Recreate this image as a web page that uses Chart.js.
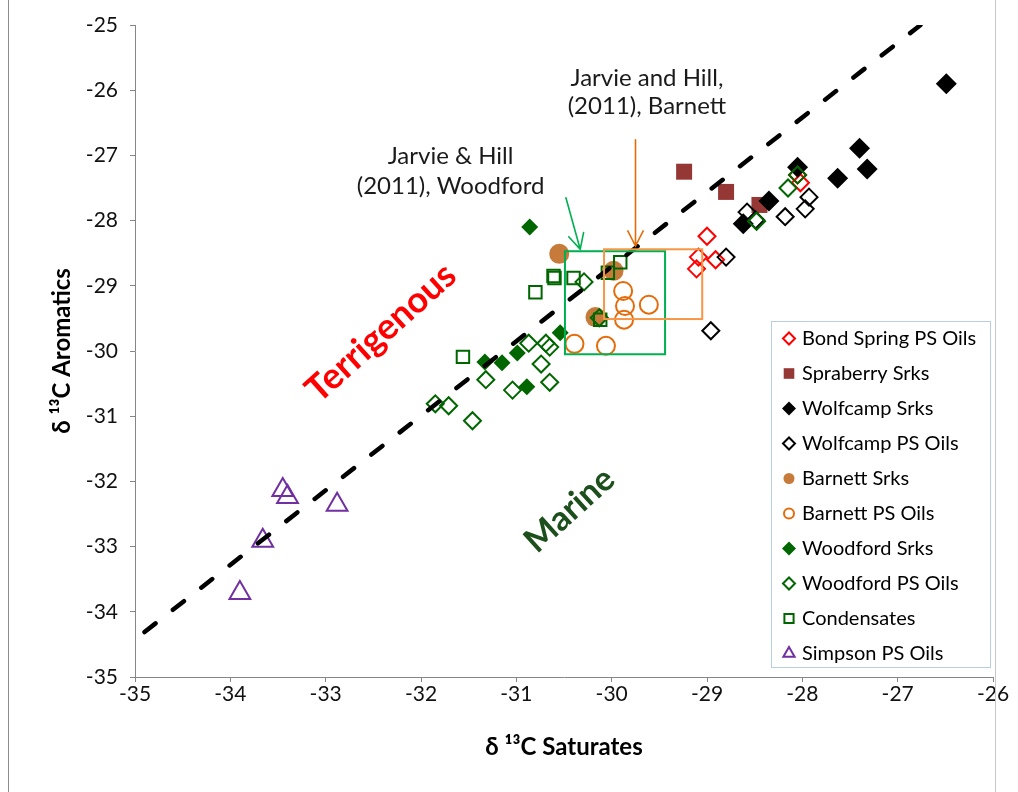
<!DOCTYPE html>
<html>
<head>
<meta charset="utf-8">
<script src="https://cdn.jsdelivr.net/npm/chart.js@4.4.1/dist/chart.umd.min.js"></script>
<style>
  html, body { margin: 0; padding: 0; background: #fff; }
  #wrap { position: relative; width: 1018px; height: 792px; }
  canvas { display: block; }
</style>
</head>
<body>
<div id="wrap"><canvas id="c" width="1018" height="792"></canvas></div>
<script>
// δ13C saturates (x) vs δ13C aromatics (y), per sample group
const seriesNames = ['Bond Spring PS Oils', 'Spraberry Srks', 'Wolfcamp Srks', 'Wolfcamp PS Oils',
  'Barnett Srks', 'Barnett PS Oils', 'Woodford Srks', 'Woodford PS Oils', 'Condensates', 'Simpson PS Oils'];

const bondSpringSat = [-29.00, -29.09, -28.91, -29.11, -28.05, -28.02];
const bondSpringAro = [-28.24, -28.56, -28.60, -28.74, -27.30, -27.42];

const spraberrySat = [-29.24, -28.80, -28.45];
const spraberryAro = [-27.25, -27.56, -27.76];

const wolfcampSrkSat = [-26.49, -27.40, -27.32, -27.63, -28.05, -28.35, -28.62];
const wolfcampSrkAro = [-25.90, -26.89, -27.21, -27.35, -27.18, -27.70, -28.05];

const wolfcampOilSat = [-28.58, -28.49, -28.18, -27.93, -27.97, -28.80, -28.96];
const wolfcampOilAro = [-27.87, -27.99, -27.94, -27.64, -27.82, -28.56, -29.69];

const barnettSrkSat = [-30.55, -29.98, -30.17];
const barnettSrkAro = [-28.51, -28.77, -29.48];

const barnettOilSat = [-29.88, -29.86, -29.61, -29.87, -30.39, -30.06];
const barnettOilAro = [-29.08, -29.31, -29.29, -29.52, -29.89, -29.92];

const woodfordSrkSat = [-30.86, -31.33, -31.15, -30.99, -30.89, -30.54];
const woodfordSrkAro = [-28.10, -30.17, -30.18, -30.03, -30.55, -29.72];

const woodfordOilSat = [-30.29, -30.87, -30.69, -30.65, -30.74, -31.32, -30.65, -31.04, -31.85, -31.71, -31.46, -30.13, -28.05, -28.15, -28.48];
const woodfordOilAro = [-28.94, -29.88, -29.88, -29.94, -30.20, -30.44, -30.48, -30.60, -30.81, -30.84, -31.07, -29.49, -27.30, -27.50, -28.01];

const condensateSat = [-30.61, -30.60, -30.80, -30.40, -29.91, -30.04, -30.12, -31.56];
const condensateAro = [-28.85, -28.88, -29.10, -28.88, -28.64, -28.80, -29.52, -30.09];

const simpsonSat = [-33.45, -33.40, -32.88, -33.66, -33.90];
const simpsonAro = [-32.13, -32.24, -32.36, -32.91, -33.71];

// marine / terrigenous dividing line end points
const dividerSat = [-34.90, -26.76];
const dividerAro = [-34.31, -25.00];

// literature fields (Jarvie & Hill, 2011): [min, max] in each axis
const woodfordFieldSat = [-30.49, -29.44];
const woodfordFieldAro = [-30.05, -28.47];
const barnettFieldSat = [-30.08, -29.05];
const barnettFieldAro = [-29.51, -28.44];

const xTicks = [-35, -34, -33, -32, -31, -30, -29, -28, -27, -26];
const yTicks = [-35, -34, -33, -32, -31, -30, -29, -28, -27, -26, -25];

const FONT = 'Lato, "Open Sans", "DejaVu Sans", sans-serif';

function pts(xs, ys) { return xs.map((x, i) => ({ x: x, y: ys[i] })); }

const GREEN = '#006600';
const markerStyles = [
  { style: 'rectRot', r: 8.5, fill: 'rgba(0,0,0,0)', line: '#FF0000', w: 2, lr: 6 },
  { style: 'rect', r: 11.3, fill: '#953735', line: '#953735', w: 0, lr: 7.5 },
  { style: 'rectRot', r: 10.5, fill: '#000000', line: '#000000', w: 0, lr: 7 },
  { style: 'rectRot', r: 8.5, fill: 'rgba(0,0,0,0)', line: '#000000', w: 2, lr: 6 },
  { style: 'circle', r: 10, fill: '#C77B3B', line: '#C77B3B', w: 0, lr: 5.5 },
  { style: 'circle', r: 9, fill: 'rgba(0,0,0,0)', line: '#E46C0A', w: 2, lr: 5 },
  { style: 'rectRot', r: 8.5, fill: GREEN, line: GREEN, w: 0, lr: 7 },
  { style: 'rectRot', r: 8.5, fill: 'rgba(0,0,0,0)', line: GREEN, w: 2, lr: 6 },
  { style: 'rect', r: 8.8, fill: 'rgba(0,0,0,0)', line: GREEN, w: 2, lr: 6.5 },
  { style: 'triangle', r: 12, fill: 'rgba(0,0,0,0)', line: '#7030A0', w: 2, lr: 6.5 }
];

const seriesData = [
  pts(bondSpringSat, bondSpringAro),
  pts(spraberrySat, spraberryAro),
  pts(wolfcampSrkSat, wolfcampSrkAro),
  pts(wolfcampOilSat, wolfcampOilAro),
  pts(barnettSrkSat, barnettSrkAro),
  pts(barnettOilSat, barnettOilAro),
  pts(woodfordSrkSat, woodfordSrkAro),
  pts(woodfordOilSat, woodfordOilAro),
  pts(condensateSat, condensateAro),
  pts(simpsonSat, simpsonAro)
];

const datasets = seriesNames.map((name, i) => ({
  label: name,
  data: seriesData[i],
  pointStyle: markerStyles[i].style,
  pointRadius: markerStyles[i].r,
  pointBackgroundColor: markerStyles[i].fill,
  pointBorderColor: markerStyles[i].line,
  pointBorderWidth: markerStyles[i].w,
  showLine: false,
  order: 20 - i   // later series drawn on top
}));

datasets.push({
  label: 'divider',
  data: pts(dividerSat, dividerAro),
  showLine: true,
  pointRadius: 0,
  borderColor: '#000000',
  borderWidth: 4.5,
  borderDash: [14, 22],
  borderCapStyle: 'round',
  order: 0
});

// text and shape annotations placed in data units
const notes = {
  barnettLabel: { x: -29.63, y: [-25.81, -26.25], lines: ['Jarvie and Hill,', '(2011), Barnett'] },
  woodfordLabel: { x: -31.69, y: [-27.02, -27.48], lines: ['Jarvie & Hill', '(2011), Woodford'] },
  greenArrow: { from: [-30.48, -27.65], to: [-30.33, -28.44], color: '#00B050' },
  orangeArrow: { from: [-29.75, -26.76], to: [-29.75, -28.39], color: '#E46C0A' },
  terrigenous: { x: -32.42, y: -29.72, text: 'Terrigenous', color: '#FF0000', size: 36 },
  marine: { x: -30.44, y: -32.44, text: 'Marine', color: '#1C4F1C', size: 34 }
};

function drawArrow(ctx, x1, y1, x2, y2, color) {
  const ang = Math.atan2(y2 - y1, x2 - x1);
  const arm = 17, spread = 0.47;
  ctx.save();
  ctx.strokeStyle = color;
  ctx.lineWidth = 1.6;
  ctx.lineCap = 'round';
  ctx.beginPath();
  ctx.moveTo(x1, y1);
  ctx.lineTo(x2, y2);
  ctx.moveTo(x2 - arm * Math.cos(ang - spread), y2 - arm * Math.sin(ang - spread));
  ctx.lineTo(x2, y2);
  ctx.lineTo(x2 - arm * Math.cos(ang + spread), y2 - arm * Math.sin(ang + spread));
  ctx.stroke();
  ctx.restore();
}

const overlayPlugin = {
  id: 'overlay',
  afterDatasetsDraw(chart) {
    const ctx = chart.ctx;
    const sx = v => chart.scales.x.getPixelForValue(v);
    const sy = v => chart.scales.y.getPixelForValue(v);

    // literature field boxes
    ctx.save();
    ctx.lineWidth = 2;
    ctx.strokeStyle = '#00B050';
    ctx.strokeRect(sx(woodfordFieldSat[0]), sy(woodfordFieldAro[1]),
      sx(woodfordFieldSat[1]) - sx(woodfordFieldSat[0]), sy(woodfordFieldAro[0]) - sy(woodfordFieldAro[1]));
    ctx.strokeStyle = '#F79646';
    ctx.strokeRect(sx(barnettFieldSat[0]), sy(barnettFieldAro[1]),
      sx(barnettFieldSat[1]) - sx(barnettFieldSat[0]), sy(barnettFieldAro[0]) - sy(barnettFieldAro[1]));
    ctx.restore();

    // arrows
    [notes.greenArrow, notes.orangeArrow].forEach(a => {
      drawArrow(ctx, sx(a.from[0]), sy(a.from[1]), sx(a.to[0]), sy(a.to[1]), a.color);
    });

    // citation labels
    ctx.save();
    ctx.fillStyle = '#1a1a1a';
    ctx.font = '24px ' + FONT;
    ctx.textAlign = 'center';
    ctx.textBaseline = 'middle';
    [notes.barnettLabel, notes.woodfordLabel].forEach(n => {
      n.lines.forEach((t, i) => ctx.fillText(t, sx(n.x), sy(n.y[i])));
    });
    ctx.restore();

    // rotated field names
    [notes.terrigenous, notes.marine].forEach(n => {
      ctx.save();
      ctx.translate(sx(n.x), sy(n.y));
      ctx.rotate(-42 * Math.PI / 180);
      ctx.fillStyle = n.color;
      ctx.font = 'bold ' + n.size + 'px ' + FONT;
      ctx.textAlign = 'center';
      ctx.textBaseline = 'middle';
      ctx.fillText(n.text, 0, 0);
      ctx.restore();
    });

    // legend box in the lower right of the plot
    const area = chart.chartArea;
    const boxW = 219, boxH = 346;
    const bx = area.right - 3 - boxW, by = area.bottom - 10 - boxH;
    ctx.save();
    ctx.fillStyle = '#ffffff';
    ctx.fillRect(bx, by, boxW, boxH);
    ctx.strokeStyle = '#B9CDE5';
    ctx.lineWidth = 1;
    ctx.strokeRect(bx + 0.5, by + 0.5, boxW, boxH);
    const helpers = Chart.helpers;
    seriesNames.forEach((name, i) => {
      const cy = by + 17.5 + i * 35;
      const cx = bx + 18;
      const m = markerStyles[i];
      ctx.fillStyle = m.fill;
      ctx.strokeStyle = m.line;
      ctx.lineWidth = m.w;
      helpers.drawPoint(ctx, { pointStyle: m.style, radius: m.lr, rotation: 0, borderWidth: m.w }, cx, cy);
      ctx.fillStyle = '#000000';
      ctx.font = '20px ' + FONT;
      ctx.textAlign = 'left';
      ctx.textBaseline = 'middle';
      ctx.fillText(name, bx + 31, cy);
    });
    ctx.restore();

    // outer frame lines
    ctx.save();
    ctx.strokeStyle = '#8c8c8c';
    ctx.lineWidth = 1;
    ctx.beginPath();
    ctx.moveTo(8.5, 0); ctx.lineTo(8.5, chart.height);
    ctx.stroke();
    ctx.strokeStyle = '#c8c8c8';
    ctx.beginPath();
    ctx.moveTo(995.5, 0); ctx.lineTo(995.5, chart.height);
    ctx.stroke();
    ctx.restore();
  }
};

const axisColor = '#868686';

new Chart(document.getElementById('c'), {
  type: 'scatter',
  data: { datasets: datasets },
  options: {
    responsive: false,
    animation: false,
    devicePixelRatio: 1,
    layout: { padding: { left: 44, right: 25, top: 25, bottom: 26 } },
    plugins: {
      legend: { display: false },
      tooltip: { enabled: false }
    },
    scales: {
      x: {
        type: 'linear',
        min: -35, max: -26,
        afterFit: s => { s.height = 89; },
        afterBuildTicks: s => { s.ticks = xTicks.map(v => ({ value: v })); },
        border: { color: axisColor, width: 1 },
        grid: { drawOnChartArea: false, drawTicks: true, tickLength: 5, color: axisColor },
        ticks: { color: '#111', font: { family: FONT, size: 21 }, padding: 0, maxRotation: 0 },
        title: { display: true, text: 'δ ¹³C Saturates', color: '#000', font: { family: FONT, size: 24, weight: 'bold' } }
      },
      y: {
        type: 'linear',
        min: -35, max: -25,
        afterFit: s => { s.width = 91; },
        afterBuildTicks: s => { s.ticks = yTicks.map(v => ({ value: v })); },
        border: { color: axisColor, width: 1 },
        grid: { drawOnChartArea: false, drawTicks: true, tickLength: 5, color: axisColor },
        ticks: { color: '#111', font: { family: FONT, size: 21 }, padding: 12 },
        title: { display: true, text: 'δ ¹³C Aromatics', color: '#000', font: { family: FONT, size: 24, weight: 'bold' } }
      }
    }
  },
  plugins: [overlayPlugin]
});
</script>
</body>
</html>
